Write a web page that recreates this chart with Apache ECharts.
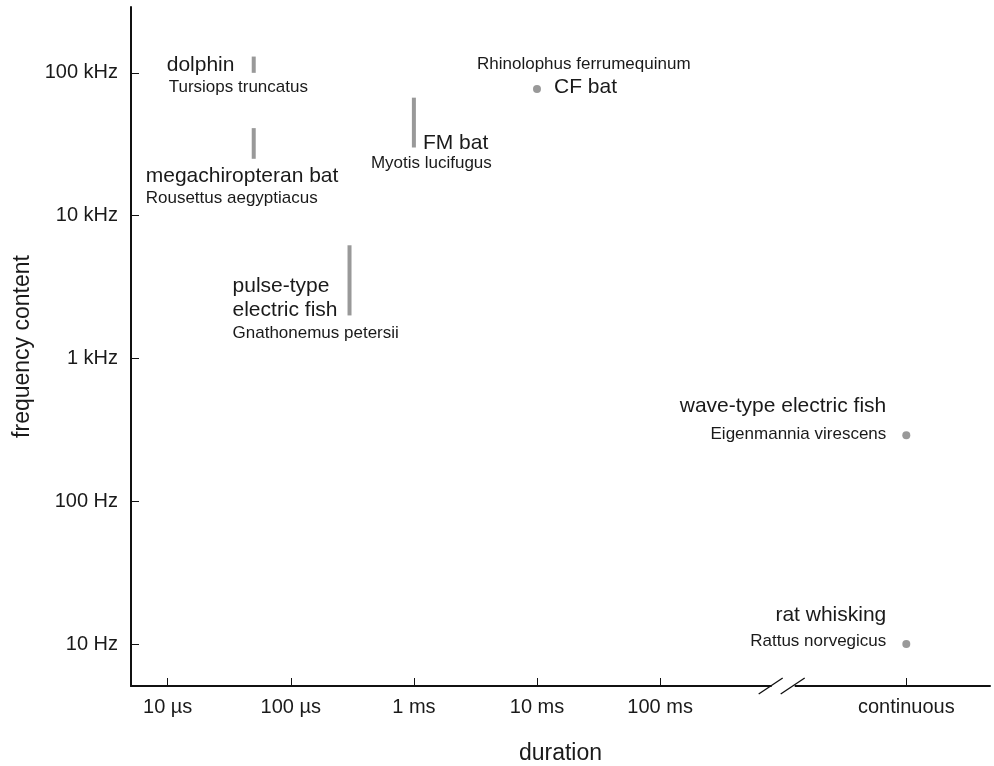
<!DOCTYPE html>
<html><head><meta charset="utf-8">
<script src="https://cdn.jsdelivr.net/npm/echarts@6/dist/echarts.min.js"></script>
<style>html,body{margin:0;padding:0;background:#fff}#c{width:994px;height:766px}</style>
</head><body><div id="c"></div>
<script>
// ---- data ----
const commonNames = ['dolphin', 'megachiropteran bat', 'FM bat', 'CF bat', 'pulse-type\nelectric fish', 'wave-type electric fish', 'rat whisking'];
const latinNames = ['Tursiops truncatus', 'Rousettus aegyptiacus', 'Myotis lucifugus', 'Rhinolophus ferrumequinum', 'Gnathonemus petersii', 'Eigenmannia virescens', 'Rattus norvegicus'];
const durationSec = [50e-6, 50e-6, 1e-3, 10e-3, 300e-6, 'continuous', 'continuous'];
const freqLowHz  = [100000, 25000, 30000, 77000, 2000, 290, 10];
const freqHighHz = [130000, 41000, 67000, 77000, 6200, 290, 10];
const durationTickSec = [1e-5, 1e-4, 1e-3, 1e-2, 1e-1, 'continuous'];
const durationTickLabels = ['10 \u00b5s', '100 \u00b5s', '1 ms', '10 ms', '100 ms', 'continuous'];
const freqTickHz = [10, 100, 1000, 10000, 100000];
const freqTickLabels = ['10 Hz', '100 Hz', '1 kHz', '10 kHz', '100 kHz'];

// ---- layout / style ----
const CONTINUOUS_LOG = 1;   // axis position used for "continuous" (past the break)
const BREAK_LOG = 0;        // where the axis break is drawn
const X_MIN = -5.298, X_MAX = 1.68, Y_MIN = 0.706, Y_MAX = 5.461;
const FONT = 'Liberation Sans, Arial, Helvetica, sans-serif';
const TXT = '#1a1a1a';
const MARK = '#999';
// label offsets (px) relative to each mark's low end: [dx, dy, align]
const commonLayout = [[-87, -7.6, 'left'], [-108, 17.5, 'left'], [9, -4.2, 'left'], [17, -1.8, 'left'], [-117, -17.1, 'left'], [-20, -28.8, 'right'], [-20, -28.6, 'right']];
const latinLayout  = [[-85, 14.9, 'left'], [-108, 40, 'left'], [-43, 16.3, 'left'], [-60, -24.3, 'left'], [-117, 17.4, 'left'], [-20, -1.3, 'right'], [-20, -3.1, 'right']];

const logDur = d => d === 'continuous' ? CONTINUOUS_LOG : Math.log10(d);
const durTickLog = durationTickSec.map(logDur);
const freqTickLog = freqTickHz.map(v => Math.log10(v));
const findLabel = (vals, labels, v) => { for (let i = 0; i < vals.length; i++) if (Math.abs(vals[i] - v) < 1e-6) return labels[i]; return ''; };

const markData = durationSec.map((d, i) => [logDur(d), Math.log10(freqLowHz[i]), Math.log10(freqHighHz[i])]);

function labelSeries(names, layout, size, lh) {
  return {
    type: 'scatter', symbolSize: 1, itemStyle: { color: 'rgba(0,0,0,0)', opacity: 1 }, silent: true, z: 5,
    data: names.map((n, i) => ({
      value: [logDur(durationSec[i]), Math.log10(freqLowHz[i])],
      name: n,
      label: { align: layout[i][2], offset: [layout[i][0], layout[i][1]] }
    })),
    label: { show: true, position: 'inside', verticalAlign: 'middle', formatter: p => p.name,
      color: TXT, opacity: 1, fontSize: size, lineHeight: lh, fontFamily: FONT }
  };
}

const chart = echarts.init(document.getElementById('c'), null, { renderer: 'canvas' });
chart.setOption({
  animation: false,
  backgroundColor: '#fff',
  textStyle: { fontFamily: FONT },
  grid: { left: 131, right: 4, top: 7, bottom: 80, containLabel: false, outerBoundsMode: 'none' },
  xAxis: {
    type: 'value', min: X_MIN, max: X_MAX,
    splitLine: { show: false },
    axisLine: { onZero: false, lineStyle: { color: '#111', width: 2 } },
    axisTick: { inside: true, length: 8, customValues: durTickLog, lineStyle: { color: '#111', width: 1 } },
    axisLabel: { customValues: durTickLog, formatter: v => findLabel(durTickLog, durationTickLabels, v),
      fontSize: 20, lineHeight: 20, color: TXT, margin: 11, fontFamily: FONT },
    name: 'duration', nameLocation: 'middle', nameGap: 56,
    nameTextStyle: { fontSize: 23, lineHeight: 23, color: TXT, fontFamily: FONT }
  },
  yAxis: {
    type: 'value', min: Y_MIN, max: Y_MAX,
    splitLine: { show: false },
    axisLine: { onZero: false, lineStyle: { color: '#111', width: 2 } },
    axisTick: { inside: true, length: 8, customValues: freqTickLog, lineStyle: { color: '#111', width: 1 } },
    axisLabel: { customValues: freqTickLog, formatter: v => findLabel(freqTickLog, freqTickLabels, v),
      fontSize: 20, lineHeight: 20, color: TXT, margin: 13, fontFamily: FONT },
    name: 'frequency content', nameLocation: 'middle', nameGap: 89, nameRotate: 90,
    nameTextStyle: { fontSize: 23, lineHeight: 23, color: TXT, fontFamily: FONT }
  },
  series: [
    {
      type: 'custom', clip: false, silent: true, z: 3,
      data: markData, encode: { x: 0, y: [1, 2] },
      renderItem(params, api) {
        const x = api.value(0), lo = api.value(1), hi = api.value(2);
        const p1 = api.coord([x, lo]), p2 = api.coord([x, hi]);
        if (lo === hi) return { type: 'circle', shape: { cx: p1[0], cy: p1[1], r: 4 }, style: { fill: MARK } };
        return { type: 'line', shape: { x1: p1[0], y1: p1[1], x2: p2[0], y2: p2[1] }, style: { stroke: MARK, lineWidth: 4 } };
      }
    },
    {
      type: 'custom', clip: false, silent: true, z: 4,
      data: [[BREAK_LOG, Y_MIN]], encode: { x: 0, y: 1 },
      renderItem(params, api) {
        const p = api.coord([api.value(0), api.value(1)]);
        return { type: 'group', children: [
          { type: 'rect', shape: { x: p[0] - 11.5, y: p[1] - 3, width: 23, height: 6 }, style: { fill: '#fff' } },
          { type: 'line', shape: { x1: p[0] - 24.5, y1: p[1] + 8, x2: p[0] - 0.5, y2: p[1] - 8 }, style: { stroke: '#111', lineWidth: 1.3 } },
          { type: 'line', shape: { x1: p[0] - 2.5, y1: p[1] + 8, x2: p[0] + 21.5, y2: p[1] - 8 }, style: { stroke: '#111', lineWidth: 1.3 } }
        ] };
      }
    },
    labelSeries(commonNames, commonLayout, 21, 24),
    labelSeries(latinNames, latinLayout, 17, 20)
  ]
});
</script></body></html>
